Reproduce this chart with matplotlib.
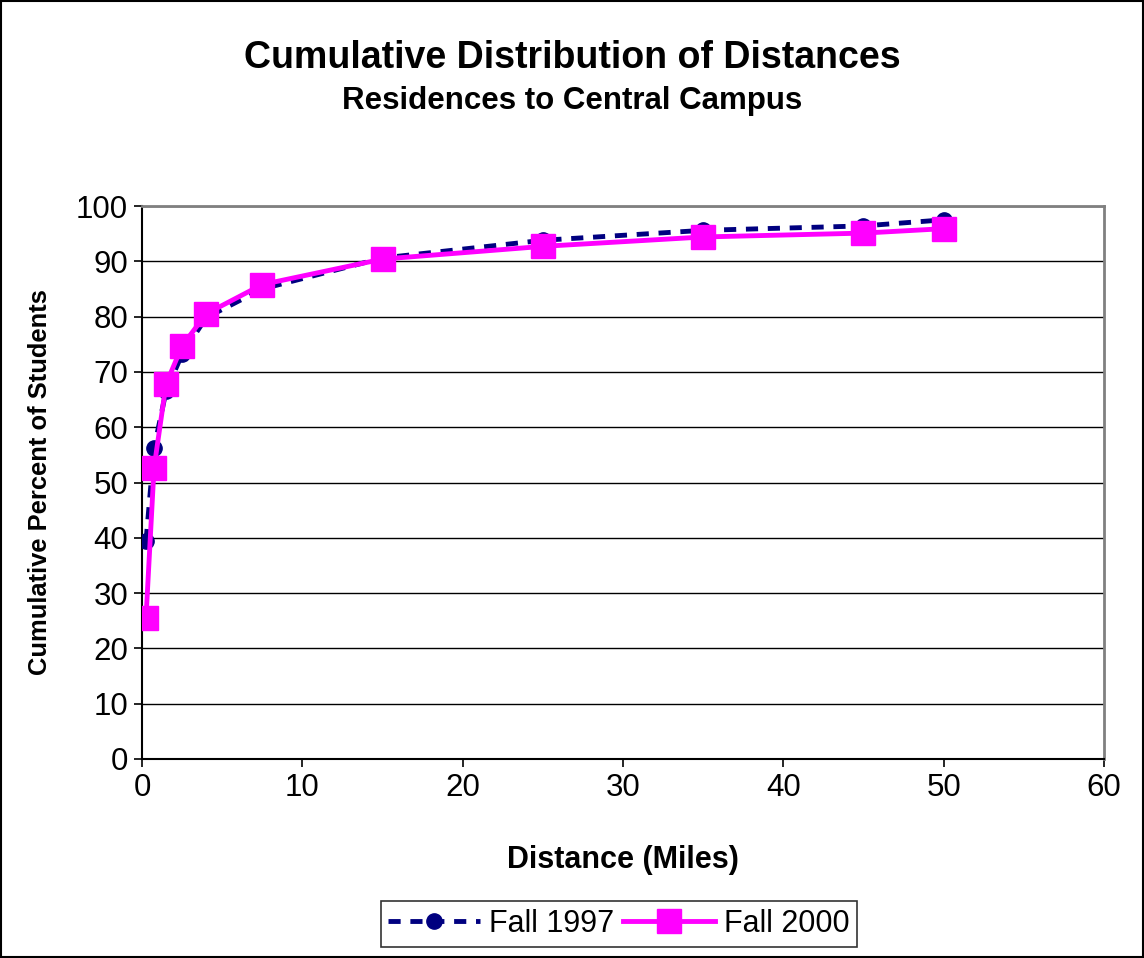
import matplotlib.pyplot as plt
from matplotlib.patches import Rectangle

plt.rcParams['font.family'] = ['Liberation Sans', 'DejaVu Sans']

# miles from central campus
distance = [0.25, 0.75, 1.5, 2.5, 4, 7.5, 15, 25, 35, 45, 50]
fall_1997 = [39.4, 56.2, 66.5, 73.2, 79.8, 85.0, 90.6, 93.8, 95.6, 96.4, 97.5]
fall_2000 = [25.5, 52.6, 67.8, 74.7, 80.5, 85.8, 90.4, 92.7, 94.4, 95.1, 95.9]

fig = plt.figure(figsize=(11.44, 9.58), dpi=100)
ax = fig.add_axes([142/1144, 1 - 759/958, (1104-142)/1144, (759-206)/958])

ax.plot(distance, fall_1997, color='#000080', lw=3.5, ls=(0, (2.5, 2)),
        marker='o', ms=11, label='Fall 1997', zorder=3)
ax.plot(distance, fall_2000, color='#ff00ff', lw=3.5,
        marker='s', ms=17, label='Fall 2000', zorder=4)

ax.set_xlim(0, 60)
ax.set_ylim(0, 100)
ax.set_xticks(range(0, 61, 10))
ax.set_yticks(range(0, 101, 10))
ax.tick_params(labelsize=22.5, direction='out', length=6, width=1.2, pad=4)
ax.grid(axis='y', color='black', lw=1)
for s in ['top', 'right']:
    ax.spines[s].set_color('#808080')
    ax.spines[s].set_linewidth(2)
for s in ['left', 'bottom']:
    ax.spines[s].set_color('black')
    ax.spines[s].set_linewidth(1.5)

ax.set_xlabel('Distance (Miles)', fontsize=22, fontweight='bold', labelpad=30)
ax.set_ylabel('Cumulative Percent of Students', fontsize=18.4, fontweight='bold', labelpad=17)

fig.text(0.5, 1 - 58/958, 'Cumulative Distribution of Distances', ha='center', va='center',
         fontsize=27, fontweight='bold')
fig.text(0.5, 1 - 101/958, 'Residences to Central Campus', ha='center', va='center',
         fontsize=22.5, fontweight='bold')

leg = fig.legend(loc='center', bbox_to_anchor=(619/1144, 1 - 924/958), ncol=2,
                 fontsize=22, frameon=True, fancybox=False, edgecolor='black',
                 handlelength=3, handletextpad=0.3, columnspacing=0.3, borderpad=0.25)
leg.get_frame().set_linewidth(1.2)

fig.patches.append(Rectangle((0.001, 0.001), 0.998, 0.998, transform=fig.transFigure,
                             fill=False, edgecolor='black', lw=1.5))

fig.savefig('out.png', dpi=100)
